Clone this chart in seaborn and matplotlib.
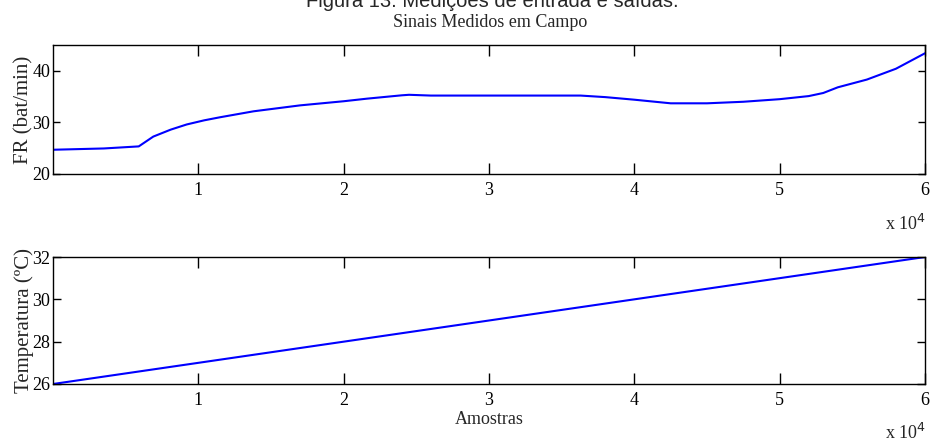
import matplotlib
matplotlib.use("Agg")
import matplotlib.pyplot as plt
import seaborn as sns
import pandas as pd

# ---- data ----
amostras_fr = [0, 3500, 5900, 6900, 8100, 9200, 10400, 11500, 12700, 13800,
               17000, 20000, 21600, 24000, 24500, 26000, 30000, 36300, 38000,
               40000, 42500, 45000, 47500, 50000, 52000, 53000, 54000, 56000,
               58000, 60000]
fr_values = [24.7, 24.95, 25.35, 27.25, 28.6, 29.6, 30.4, 31.0, 31.6, 32.15,
             33.3, 34.1, 34.6, 35.25, 35.35, 35.2, 35.2, 35.2, 34.9,
             34.4, 33.7, 33.7, 34.0, 34.5, 35.1, 35.7, 36.8, 38.3,
             40.4, 43.4]
amostras_temp = [0, 60000]
temp_values = [26.0, 32.0]
xtick_values = [10000, 20000, 30000, 40000, 50000, 60000]
xtick_labels = ["1", "2", "3", "4", "5", "6"]
fr_ticks = [20, 30, 40]
temp_ticks = [26, 28, 30, 32]

sns.set_style("ticks")
plt.rcParams['font.family'] = ['Liberation Serif', 'DejaVu Serif']

fig = plt.figure(figsize=(9.3, 4.41), dpi=100)
W, H = 930, 441

def add_ax(l, t, r, b):
    return fig.add_axes([l / W, 1 - b / H, (r - l) / W, (b - t) / H])

ax1 = add_ax(53, 45, 925, 174)
ax2 = add_ax(53, 257, 925, 384)

df1 = pd.DataFrame({"x": amostras_fr, "y": fr_values})
df2 = pd.DataFrame({"x": amostras_temp, "y": temp_values})
sns.lineplot(data=df1, x="x", y="y", ax=ax1, color=(0, 0, 1), linewidth=1.5)
sns.lineplot(data=df2, x="x", y="y", ax=ax2, color=(0, 0, 1), linewidth=1.5)

for ax, yt, ylim, ylabel, ylen in [
    (ax1, fr_ticks, (20, 45), "FR (bat/min)", 5),
    (ax2, temp_ticks, (26, 32), "Temperatura (\u00baC)", 6),
]:
    ax.set_xlim(0, 60000)
    ax.set_ylim(*ylim)
    ax.set_xticks(xtick_values)
    ax.set_xticklabels(xtick_labels)
    ax.set_yticks(yt)
    ax.set_yticklabels([str(v) for v in yt])
    ax.tick_params(axis="x", direction="in", length=8, width=1, top=True,
                   labelsize=13, pad=6, colors="black")
    ax.tick_params(axis="y", direction="in", length=ylen, width=1, right=True,
                   labelsize=13, pad=2, colors="black")
    for s in ax.spines.values():
        s.set_visible(True)
        s.set_linewidth(1.0)
        s.set_color("black")
    ax.set_xlabel("")
    ax.set_ylabel(ylabel, fontsize=15)
    ax.yaxis.set_label_coords(-0.022, 0.5)
    # exponent label
    ax.text(1.001, -0.434, r"x 10$^{4}$", transform=ax.transAxes, ha="right",
            va="baseline", fontsize=13)

ax2.set_xlabel("Amostras", fontsize=13, labelpad=1)

fig.text(490 / W, 1 - 27 / H, "Sinais Medidos em Campo", ha="center",
         va="baseline", fontsize=13)
fig.text(492 / W, 1 - 7 / H, "Figura 13: Medi\u00e7\u00f5es de entrada e sa\u00eddas.",
         ha="center", va="baseline", fontsize=14.5,
         family=["Liberation Sans", "DejaVu Sans"])

fig.savefig("out.png", dpi=100)
